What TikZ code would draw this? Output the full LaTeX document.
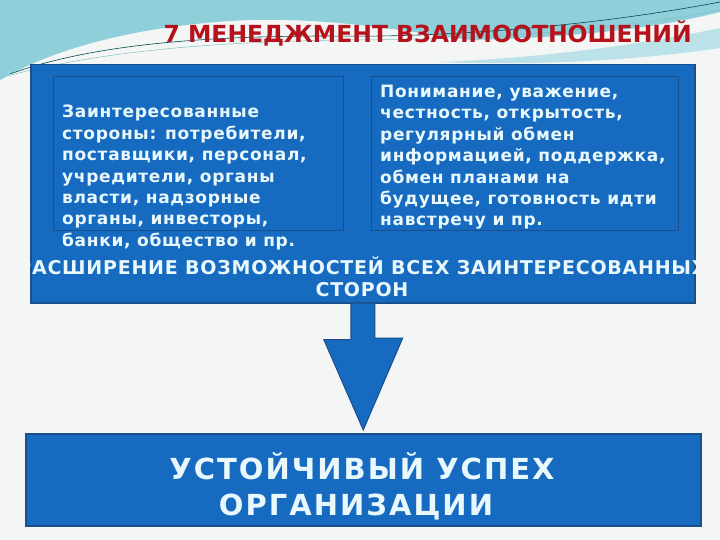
\documentclass[tikz,border=0pt]{standalone}
\usepackage{fontspec}
\setmainfont{DejaVu Sans}
\usetikzlibrary{positioning}
\definecolor{boxblue}{HTML}{166BC1}
\definecolor{edgeblue}{HTML}{1C4E8A}
\definecolor{pale}{HTML}{E8F8FC}
\definecolor{titlered}{HTML}{B5121C}
\definecolor{sky}{HTML}{8FCFDA}
\definecolor{paper}{HTML}{F4F6F6}

\begin{document}
\begin{tikzpicture}[x=1pt,y=-1pt,
  bigbox/.style={draw=edgeblue, line width=1.5pt, fill=boxblue, anchor=north west, inner sep=0pt},
  innerbox/.style={draw=edgeblue, line width=1.2pt, anchor=north west, inner sep=0pt},
  bodytext/.style={text=pale, align=left, anchor=north west, inner sep=0pt,
    font=\bfseries\fontsize{17}{21.4}\selectfont\addfontfeature{LetterSpace=4}},
  bandtext/.style={text=pale, align=center, anchor=north, inner sep=0pt,
    font=\bfseries\fontsize{19}{22}\selectfont\addfontfeature{LetterSpace=4}},
  goaltext/.style={text=pale, align=center, anchor=north, inner sep=0pt,
    font=\bfseries\fontsize{29}{36}\selectfont\addfontfeature{LetterSpace=7}}]
\useasboundingbox (0,0) rectangle (720,540);
% background
\fill[paper] (0,0) rectangle (720,540);
\fill[sky] (0,0) -- (720,0) -- (720,12) .. controls (650,30) and (560,38) .. (470,40)
  .. controls (400,30) and (330,18) .. (250,20) .. controls (150,24) and (60,45) .. (0,80) -- cycle;
\fill[sky!60!white] (440,62) .. controls (540,58) and (640,45) .. (720,28) -- (720,48)
  .. controls (640,60) and (540,66) .. (440,62) -- cycle;
\draw[teal!60!black, line width=0.6pt] (10,74) .. controls (90,45) and (200,36) .. (330,36)
  .. controls (450,38) and (600,25) .. (720,2);
\draw[teal!50!white, line width=0.5pt] (0,78) .. controls (100,50) and (220,42) .. (340,40)
  .. controls (480,40) and (620,30) .. (720,10);
% title
\node[anchor=east, inner sep=0pt, text=titlered, font=\bfseries\fontsize{23.5}{28}\selectfont]
  (title) at (692,33) {7 МЕНЕДЖМЕНТ ВЗАИМООТНОШЕНИЙ};
% upper block
\node[bigbox, minimum width=664pt, minimum height=238pt] (outer) at (30,64) {};
\node[innerbox, minimum width=290pt, minimum height=154pt] (stake) at (53,76) {};
\node[innerbox, minimum width=307pt, minimum height=154pt] (values) at (371,76) {};
\node[bodytext] (staketext) at (62,105) {Заинтересованные\\стороны: потребители,\\поставщики, персонал,\\учредители, органы\\власти, надзорные\\органы, инвесторы,\\банки, общество и пр.};
\node[bodytext] (valuestext) at (380,85) {Понимание, уважение,\\честность, открытость,\\регулярный обмен\\информацией, поддержка,\\обмен планами на\\будущее, готовность идти\\навстречу и пр.};
\begin{scope}
  \clip (outer.north west) rectangle (outer.south east);
  \node[bandtext] (band) at (362,257) {РАСШИРЕНИЕ ВОЗМОЖНОСТЕЙ ВСЕХ ЗАИНТЕРЕСОВАННЫХ\\СТОРОН};
\end{scope}
% lower block
\node[bigbox, minimum width=675pt, minimum height=92pt] (goal) at (25,433) {};
\node[goaltext] (goaltxt) at (362,452) {УСТОЙЧИВЫЙ УСПЕХ\\ОРГАНИЗАЦИИ\kern12pt};
% arrow
\draw[fill=boxblue, draw=edgeblue, line width=1pt, line join=miter]
  ([xshift=-12pt]outer.south) -- ++(0,36) -- ++(-27,0) -- ([yshift=3pt]goal.north)
  -- ([xshift=40pt]outer.south |- 0,338) -- ++(-28,0) -- ([xshift=12pt]outer.south);
\end{tikzpicture}
\end{document}
